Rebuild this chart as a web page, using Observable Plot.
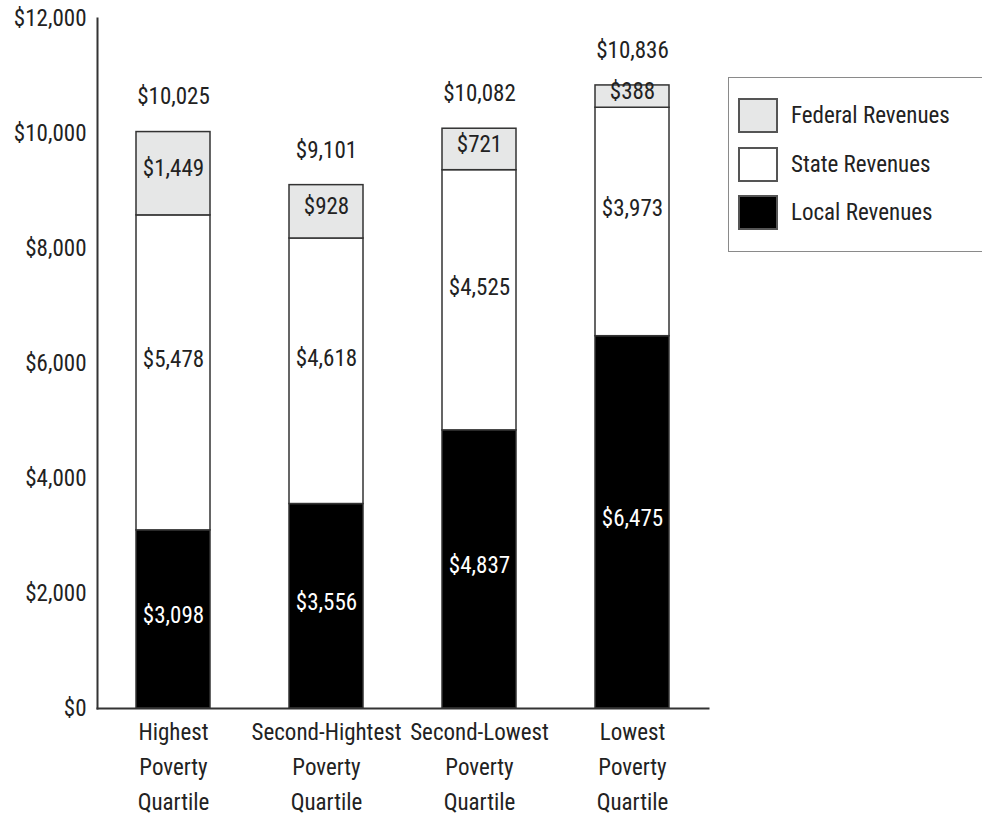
<!DOCTYPE html>
<html>
<head>
<meta charset="utf-8">
<script src="https://cdn.jsdelivr.net/npm/d3@7"></script>
<script src="https://cdn.jsdelivr.net/npm/@observablehq/plot@0.6"></script>
<style>
  html, body { margin: 0; padding: 0; background: #fff; overflow: hidden; }
  #wrap { position: relative; width: 982px; height: 816px; font-family: "Liberation Sans Narrow", "Arial Narrow", "Roboto Condensed", "Liberation Sans", sans-serif; }
  #legend { position: absolute; left: 728px; top: 77px; width: 270px; height: 175px; border: 1.5px solid #8a8a8a; box-sizing: border-box; }
  .item { position: absolute; left: 9px; height: 35px; display: flex; align-items: center; }
  .sw { width: 40px; height: 35px; box-sizing: border-box; border: 2px solid #555; margin-right: 13px; }
  .lab { font-size: 23px; color: #222; }
</style>
</head>
<body>
<div id="wrap"></div>
<script>
const categories = ["Highest Poverty Quartile", "Second-Hightest Poverty Quartile", "Second-Lowest Poverty Quartile", "Lowest Poverty Quartile"];
const categoryLines = ["Highest\nPoverty\nQuartile", "Second-Hightest\nPoverty\nQuartile", "Second-Lowest\nPoverty\nQuartile", "Lowest\nPoverty\nQuartile"];
const series = ["Local Revenues", "State Revenues", "Federal Revenues"];
const localValues = [3098, 3556, 4837, 6475];
const stateValues = [5478, 4618, 4525, 3973];
const federalValues = [1449, 928, 721, 388];
const totals = [10025, 9101, 10082, 10836];
const yTicks = [0, 2000, 4000, 6000, 8000, 10000, 12000];
const seriesColors = ["#000000", "#ffffff", "#e6e7e7"];
const labelColors = ["#ffffff", "#222222", "#222222"];

const valuesBySeries = [localValues, stateValues, federalValues];
const rows = [];
series.forEach((s, si) => {
  categories.forEach((c, ci) => {
    rows.push({category: c, series: s, value: valuesBySeries[si][ci], labelColor: labelColors[si]});
  });
});
const totalRows = categories.map((c, i) => ({category: c, total: totals[i]}));
const labelMap = new Map(categories.map((c, i) => [c, categoryLines[i]]));
const money = d => "$" + d3.format(",")(d);
const font = '"Liberation Sans Narrow", "Arial Narrow", "Roboto Condensed", "Liberation Sans", sans-serif';
const labelDy = {"Local Revenues": -4, "State Revenues": -13, "Federal Revenues": -5};

// one text mark per series (so each can have its own offset); all rows are stacked, only one series is labelled
const segLabels = series.map(s => Plot.text(rows, Plot.stackY({
  x: "category", y: "value", z: "series", order: series,
  text: d => d.series === s ? money(d.value) : "",
  fill: "labelColor", fontSize: 23, dy: labelDy[s]
})));

const chart = Plot.plot({
  width: 982,
  height: 816,
  marginTop: 18,
  marginBottom: 108,
  marginLeft: 97,
  marginRight: 274,
  style: {fontFamily: font, fontSize: "23px", color: "#222", background: "#fff"},
  x: {domain: categories, paddingInner: 0.516, paddingOuter: 0.248, label: null},
  y: {domain: [0, 12000], label: null},
  color: {domain: series, range: seriesColors},
  marks: [
    Plot.barY(rows, {
      x: "category", y: "value", fill: "series", order: series,
      stroke: "#333", strokeWidth: 1.5
    }),
    ...segLabels,
    Plot.text(totalRows, {
      x: "category", y: "total", text: d => money(d.total),
      dy: -35, fill: "#222", fontSize: 23
    }),
    Plot.axisY({
      ticks: yTicks, tickFormat: money, tickSize: 0, tickPadding: 11,
      fontSize: 23, fill: "#222", label: null
    }),
    Plot.axisX({
      tickSize: 0, tickPadding: 7, tickFormat: d => labelMap.get(d),
      fontSize: 23, lineHeight: 1.52, fill: "#222", label: null
    }),
    Plot.frame({anchor: "left", stroke: "#333", strokeWidth: 2}),
    Plot.frame({anchor: "bottom", stroke: "#333", strokeWidth: 2})
  ]
});

const wrap = document.getElementById("wrap");
wrap.appendChild(chart);

const legend = document.createElement("div");
legend.id = "legend";
const tops = [20, 69, 117];
[2, 1, 0].forEach((si, k) => {
  const item = document.createElement("div");
  item.className = "item";
  item.style.top = tops[k] + "px";
  const sw = document.createElement("div");
  sw.className = "sw";
  sw.style.background = seriesColors[si];
  const lab = document.createElement("span");
  lab.className = "lab";
  lab.textContent = series[si];
  item.appendChild(sw);
  item.appendChild(lab);
  legend.appendChild(item);
});
wrap.appendChild(legend);
</script>
</body>
</html>
